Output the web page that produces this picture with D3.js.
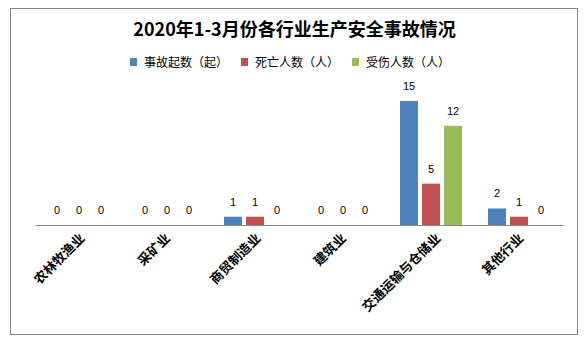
<!DOCTYPE html>
<html><head><meta charset="utf-8">
<script src="https://cdn.jsdelivr.net/npm/d3@7"></script>
<style>html,body{margin:0;padding:0;background:#fff;}</style>
</head><body>
<script>
const title = "2020年1-3月份各行业生产安全事故情况";
const categories = ["农林牧渔业","采矿业","商贸制造业","建筑业","交通运输与仓储业","其他行业"];
const seriesNames = ["事故起数（起）","死亡人数（人）","受伤人数（人）"];
const accidents = [0,0,1,0,15,2];
const deaths = [0,0,1,0,5,1];
const injuries = [0,0,0,0,12,0];
const colors = ["#4F81BD","#C0504D","#9BBB59"];
const seriesValues = [accidents, deaths, injuries];

const W = 584, H = 342;
const svg = d3.select("body").append("svg").attr("width", W).attr("height", H);
svg.append("rect").attr("x",0).attr("y",0).attr("width",W).attr("height",H).attr("fill","#fff");
svg.append("rect").attr("x",10.5).attr("y",8.5).attr("width",567).attr("height",326)
  .attr("fill","#fff").attr("stroke","#868686").attr("stroke-width",1);

const font = "'Noto Sans CJK SC','Noto Sans',sans-serif";
svg.append("text").attr("x",294.5).attr("y",36).attr("text-anchor","middle")
  .attr("font-family",font).attr("font-size",18).attr("font-weight","bold").attr("fill","#000")
  .text(title);

// legend
const legendX = [130, 241, 352];
seriesNames.forEach((s,i)=>{
  const g = svg.append("g").attr("transform",`translate(${legendX[i]},0)`);
  g.append("rect").attr("x",0).attr("y",58).attr("width",7).attr("height",8).attr("fill",colors[i]);
  g.append("text").attr("x",14).attr("y",66.5).attr("font-family",font).attr("font-size",12)
    .attr("fill","#000").attr("textLength",84).attr("lengthAdjust","spacing").text(s);
});

const x = d3.scaleBand().domain(categories).range([35,563]).padding(0);
const xs = d3.scaleBand().domain(d3.range(3)).range([-31,31]).paddingInner(4/22).paddingOuter(0);
const y = d3.scaleLinear().domain([0,16]).range([225, 92.7]);

const data = [];
categories.forEach((c,ci)=>{
  seriesValues.forEach((arr,si)=>{ data.push({c, si, v: arr[ci]}); });
});

svg.append("g").selectAll("rect").data(data.filter(d=>d.v>0)).join("rect")
  .attr("x", d=> x(d.c) + x.bandwidth()/2 + xs(d.si))
  .attr("y", d=> y(d.v))
  .attr("width", xs.bandwidth())
  .attr("height", d=> y(0) - y(d.v))
  .attr("fill", d=> colors[d.si]);

svg.append("g").selectAll("text").data(data).join("text")
  .attr("x", d=> x(d.c) + x.bandwidth()/2 + xs(d.si) + xs.bandwidth()/2)
  .attr("y", d=> y(d.v) - 11)
  .attr("text-anchor","middle")
  .attr("font-family","'Liberation Sans',Arial,sans-serif").attr("font-size",11).attr("fill","#000")
  .text(d=> d.v);

// axis
const axis = d3.axisBottom(x).tickSize(0).tickFormat("");
const ag = svg.append("g").attr("transform","translate(0,225)").call(axis);
ag.select(".domain").attr("stroke","#868686");

// category labels
const lab = svg.append("g").selectAll("text").data(categories).join("text")
  .attr("font-family",font).attr("font-size",13).attr("font-weight","bold").attr("fill","#000")
  .attr("text-anchor","end")
  .text(d=>d);
lab.each(function(d){
  const len = this.getComputedTextLength();
  const ax = x(d) + x.bandwidth()/2 + len*0.1;
  d3.select(this).attr("transform",`translate(${ax},239) rotate(-45)`);
});
</script>
</body></html>
